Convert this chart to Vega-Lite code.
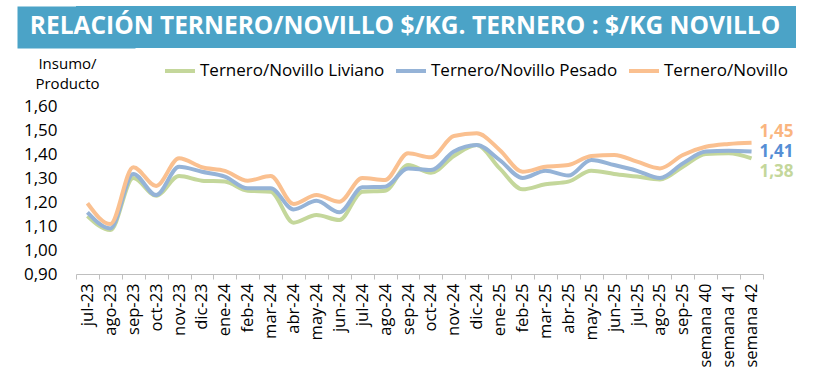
{
  "$schema": "https://vega.github.io/schema/vega-lite/v6.json",
  "background": "white",
  "padding": {"left": 17, "top": 6, "right": 0, "bottom": 0},
  "spacing": 8,
  "config": {
    "font": "Open Sans",
    "locale": {"number": {"decimal": ",", "thousands": ".", "grouping": [3], "currency": ["$", ""]}}
  },
  "datasets": {
    "serie": [
      {"mes": "jul-23", "Ternero/Novillo Liviano": 1.142, "Ternero/Novillo Pesado": 1.157, "Ternero/Novillo": 1.195},
      {"mes": "ago-23", "Ternero/Novillo Liviano": 1.083, "Ternero/Novillo Pesado": 1.090, "Ternero/Novillo": 1.108},
      {"mes": "sep-23", "Ternero/Novillo Liviano": 1.300, "Ternero/Novillo Pesado": 1.317, "Ternero/Novillo": 1.345},
      {"mes": "oct-23", "Ternero/Novillo Liviano": 1.226, "Ternero/Novillo Pesado": 1.229, "Ternero/Novillo": 1.267},
      {"mes": "nov-23", "Ternero/Novillo Liviano": 1.308, "Ternero/Novillo Pesado": 1.347, "Ternero/Novillo": 1.382},
      {"mes": "dic-23", "Ternero/Novillo Liviano": 1.289, "Ternero/Novillo Pesado": 1.326, "Ternero/Novillo": 1.345},
      {"mes": "ene-24", "Ternero/Novillo Liviano": 1.285, "Ternero/Novillo Pesado": 1.306, "Ternero/Novillo": 1.330},
      {"mes": "feb-24", "Ternero/Novillo Liviano": 1.247, "Ternero/Novillo Pesado": 1.257, "Ternero/Novillo": 1.289},
      {"mes": "mar-24", "Ternero/Novillo Liviano": 1.243, "Ternero/Novillo Pesado": 1.257, "Ternero/Novillo": 1.308},
      {"mes": "abr-24", "Ternero/Novillo Liviano": 1.114, "Ternero/Novillo Pesado": 1.169, "Ternero/Novillo": 1.192},
      {"mes": "may-24", "Ternero/Novillo Liviano": 1.146, "Ternero/Novillo Pesado": 1.205, "Ternero/Novillo": 1.229},
      {"mes": "jun-24", "Ternero/Novillo Liviano": 1.125, "Ternero/Novillo Pesado": 1.157, "Ternero/Novillo": 1.201},
      {"mes": "jul-24", "Ternero/Novillo Liviano": 1.243, "Ternero/Novillo Pesado": 1.261, "Ternero/Novillo": 1.300},
      {"mes": "ago-24", "Ternero/Novillo Liviano": 1.247, "Ternero/Novillo Pesado": 1.264, "Ternero/Novillo": 1.292},
      {"mes": "sep-24", "Ternero/Novillo Liviano": 1.354, "Ternero/Novillo Pesado": 1.340, "Ternero/Novillo": 1.403},
      {"mes": "oct-24", "Ternero/Novillo Liviano": 1.322, "Ternero/Novillo Pesado": 1.333, "Ternero/Novillo": 1.386},
      {"mes": "nov-24", "Ternero/Novillo Liviano": 1.392, "Ternero/Novillo Pesado": 1.410, "Ternero/Novillo": 1.475},
      {"mes": "dic-24", "Ternero/Novillo Liviano": 1.437, "Ternero/Novillo Pesado": 1.437, "Ternero/Novillo": 1.486},
      {"mes": "ene-25", "Ternero/Novillo Liviano": 1.340, "Ternero/Novillo Pesado": 1.375, "Ternero/Novillo": 1.417},
      {"mes": "feb-25", "Ternero/Novillo Liviano": 1.253, "Ternero/Novillo Pesado": 1.300, "Ternero/Novillo": 1.326},
      {"mes": "mar-25", "Ternero/Novillo Liviano": 1.274, "Ternero/Novillo Pesado": 1.330, "Ternero/Novillo": 1.347},
      {"mes": "abr-25", "Ternero/Novillo Liviano": 1.285, "Ternero/Novillo Pesado": 1.310, "Ternero/Novillo": 1.354},
      {"mes": "may-25", "Ternero/Novillo Liviano": 1.330, "Ternero/Novillo Pesado": 1.375, "Ternero/Novillo": 1.392},
      {"mes": "jun-25", "Ternero/Novillo Liviano": 1.317, "Ternero/Novillo Pesado": 1.354, "Ternero/Novillo": 1.396},
      {"mes": "jul-25", "Ternero/Novillo Liviano": 1.306, "Ternero/Novillo Pesado": 1.330, "Ternero/Novillo": 1.368},
      {"mes": "ago-25", "Ternero/Novillo Liviano": 1.294, "Ternero/Novillo Pesado": 1.300, "Ternero/Novillo": 1.340},
      {"mes": "sep-25", "Ternero/Novillo Liviano": 1.347, "Ternero/Novillo Pesado": 1.361, "Ternero/Novillo": 1.396},
      {"mes": "semana 40", "Ternero/Novillo Liviano": 1.400, "Ternero/Novillo Pesado": 1.410, "Ternero/Novillo": 1.430},
      {"mes": "semana 41", "Ternero/Novillo Liviano": 1.403, "Ternero/Novillo Pesado": 1.414, "Ternero/Novillo": 1.442},
      {"mes": "semana 42", "Ternero/Novillo Liviano": 1.382, "Ternero/Novillo Pesado": 1.410, "Ternero/Novillo": 1.447}
    ]
  },
  "vconcat": [
    {
      "width": 720,
      "height": 42,
      "view": {"fill": "#4BA3C7", "stroke": null},
      "data": {"values": [{"titulo": "RELACIÓN TERNERO/NOVILLO $/KG. TERNERO : $/KG NOVILLO"}]},
      "mark": {"type": "text", "font": "Open Sans", "fontWeight": "bold", "fontSize": 24.5, "color": "white", "align": "center", "baseline": "middle", "dx": -31},
      "encoding": {
        "text": {"field": "titulo", "type": "nominal"},
        "y": {
          "datum": 1, "type": "quantitative",
          "scale": {"domain": [0, 2], "nice": false, "zero": false},
          "axis": {
            "title": null, "labels": false, "ticks": false, "grid": false,
            "domain": true, "domainColor": "#4BA3C7", "domainWidth": 118, "domainCap": "butt",
            "zindex": 0, "minExtent": 0
          }
        }
      }
    },
    {
      "width": 687,
      "height": 168,
      "view": {"stroke": null},
      "data": {"name": "serie"},
      "transform": [
        {"fold": ["Ternero/Novillo Liviano", "Ternero/Novillo Pesado", "Ternero/Novillo"], "as": ["serie", "valor"]}
      ],
      "encoding": {
        "x": {
          "field": "mes", "type": "nominal", "sort": null, "bandPosition": 0.5,
          "scale": {"type": "band", "paddingInner": 0, "paddingOuter": 0},
          "axis": {
            "title": null, "labelAngle": 270, "labelFontSize": 16.5, "labelColor": "#000000",
            "labelPadding": 4, "domainColor": "#BFBFBF", "tickColor": "#BFBFBF", "tickSize": 5,
            "tickBand": "extent", "grid": false
          }
        },
        "y": {
          "field": "valor", "type": "quantitative",
          "scale": {"domain": [0.9, 1.6], "nice": false, "zero": false},
          "axis": {
            "values": [0.9, 1.0, 1.1, 1.2, 1.3, 1.4, 1.5, 1.6], "format": ".2f",
            "grid": false, "domain": false, "ticks": false, "labelPadding": 19,
            "labelFontSize": 17, "labelColor": "#000000", "minExtent": 59,
            "title": ["Insumo/", "Producto"], "titleAngle": 0, "titleAlign": "center",
            "titleBaseline": "top", "titleX": -9, "titleY": -50, "titleFontSize": 15,
            "titleFontWeight": "normal", "titleColor": "#000000", "titleLineHeight": 20
          }
        }
      },
      "layer": [
        {
          "mark": {"type": "line", "strokeWidth": 4, "interpolate": "monotone"},
          "encoding": {
            "color": {
              "field": "serie", "type": "nominal",
              "scale": {"domain": ["Ternero/Novillo Liviano", "Ternero/Novillo Pesado", "Ternero/Novillo"], "range": ["#C4D79B", "#95B3D7", "#FAC090"]},
              "legend": {
                "title": null, "orient": "none", "direction": "horizontal", "legendX": 87, "legendY": 48,
                "symbolType": "stroke", "symbolSize": 900, "symbolStrokeWidth": 4,
                "labelFontSize": 17, "labelColor": "#000000", "labelOffset": 3, "columnPadding": 3,
                "labelLimit": 400
              }
            }
          }
        },
        {
          "transform": [{"filter": "datum.mes == 'semana 42' && datum.serie == 'Ternero/Novillo'"}],
          "mark": {"type": "text", "align": "left", "baseline": "middle", "dx": 8, "dy": -11, "fontSize": 17, "fontWeight": "bold", "color": "#FAB57F"},
          "encoding": {"text": {"field": "valor", "type": "quantitative", "format": ".2f"}}
        },
        {
          "transform": [{"filter": "datum.mes == 'semana 42' && datum.serie == 'Ternero/Novillo Pesado'"}],
          "mark": {"type": "text", "align": "left", "baseline": "middle", "dx": 8, "dy": 0, "fontSize": 17, "fontWeight": "bold", "color": "#558ED5"},
          "encoding": {"text": {"field": "valor", "type": "quantitative", "format": ".2f"}}
        },
        {
          "transform": [{"filter": "datum.mes == 'semana 42' && datum.serie == 'Ternero/Novillo Liviano'"}],
          "mark": {"type": "text", "align": "left", "baseline": "middle", "dx": 8, "dy": 14, "fontSize": 17, "fontWeight": "bold", "color": "#C4D79B"},
          "encoding": {"text": {"field": "valor", "type": "quantitative", "format": ".2f"}}
        }
      ]
    }
  ]
}
